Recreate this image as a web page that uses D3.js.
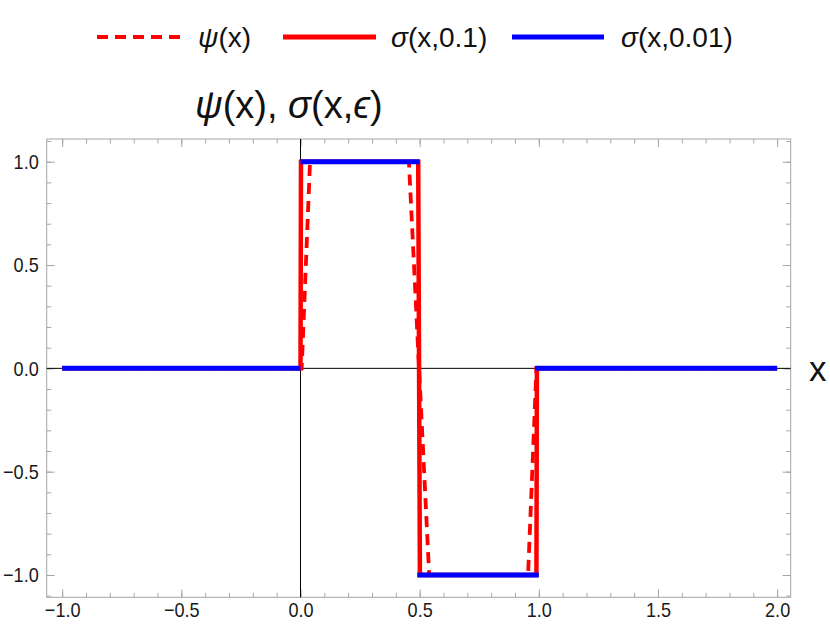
<!DOCTYPE html>
<html>
<head>
<meta charset="utf-8">
<script src="https://cdn.jsdelivr.net/npm/d3@7"></script>
<style>
	body { margin: 0; background: #fff; }
	svg { display: block; }
	text { font-family: "Liberation Sans", Arial, sans-serif; }
</style>
</head>
<body>
<svg width="830" height="632"></svg>
<script>
// psi(x)
const psiX = [-1, 0.005, 0.04, 0.455, 0.54, 0.955, 0.99, 2];
const psiY = [0, 0, 1, 1, -1, -1, 0, 0];
// sigma(x,0.1), red solid
const sig1X = [-1, 0, 0.002, 0.494, 0.501, 0.99, 0.992, 2];
const sig1Y = [0, 0, 1, 1, -1, -1, 0, 0];
// sigma(x,0.01), blue: only the flat pieces show, jumps are excluded
const sig2Start = [-1, 0, 0.49, 0.985];
const sig2End = [0, 0.5, 1, 2];
const sig2Level = [0, 1, -1, 0];

const xTicks = [-1, -0.5, 0, 0.5, 1, 1.5, 2];
const yTicks = [-1, -0.5, 0, 0.5, 1];
const xMinor = d3.range(-10, 21).map(function(d){ return d / 10; });
const yMinor = d3.range(-11, 12).map(function(d){ return d / 10; });

const frameCol = '#a6a6a6';
const textCol = '#1a1a1a';

let svg = d3.select("svg");

let x = d3.scaleLinear().domain([-1.065, 2.057]).range([46.7, 790.7]);
let y = d3.scaleLinear().domain([-1.108, 1.11]).range([597.3, 139]);

// frame ticks, pointing inward on all four sides
function tickAxis(axis, vals, size, fmt, pad){
	return axis.tickValues(vals).tickSize(-size).tickPadding(pad).tickFormat(fmt);
}
let noLabel = function(){ return ""; };
let fmt = d3.format(".1f");

let sides = [
	{ make: d3.axisBottom, sc: x, tr: [0, y.range()[0]], major: xTicks, minor: xMinor, label: true },
	{ make: d3.axisTop, sc: x, tr: [0, y.range()[1]], major: xTicks, minor: xMinor, label: false },
	{ make: d3.axisLeft, sc: y, tr: [x.range()[0], 0], major: yTicks, minor: yMinor, label: true },
	{ make: d3.axisRight, sc: y, tr: [x.range()[1], 0], major: yTicks, minor: yMinor, label: false },
];

sides.forEach(function(s){
	let gMin = svg.append("g").attr("transform", "translate(" + s.tr + ")")
		.call(tickAxis(s.make(s.sc), s.minor, 4.5, noLabel, 0));
	let gMaj = svg.append("g").attr("transform", "translate(" + s.tr + ")")
		.call(tickAxis(s.make(s.sc), s.major, 8, s.label ? fmt : noLabel, s.make === d3.axisLeft ? 8 : 5));
	[gMin, gMaj].forEach(function(g){
		g.select(".domain").remove();
		g.selectAll("line").attr("stroke", frameCol);
		g.selectAll("text").attr("fill", textCol).style("font-size", "21px")
			.each(function(){
				// the reference digits are a little narrower than Liberation Sans
				let w = this.getComputedTextLength();
				if (w > 0) d3.select(this).attr("textLength", w * 0.86).attr("lengthAdjust", "spacingAndGlyphs");
			});
	});
});

svg.append("rect")
	.attr("x", x.range()[0]).attr("y", y.range()[1])
	.attr("width", x.range()[1] - x.range()[0])
	.attr("height", y.range()[0] - y.range()[1])
	.attr("fill", "none").attr("stroke", frameCol);

// zero axes
svg.append("line")
	.attr("x1", x.range()[0]).attr("x2", x.range()[1])
	.attr("y1", y(0)).attr("y2", y(0))
	.attr("stroke", "black");
svg.append("line")
	.attr("x1", x(0)).attr("x2", x(0))
	.attr("y1", y.range()[0]).attr("y2", y.range()[1])
	.attr("stroke", "black");

let line = d3.line()
	.x(function(d){ return x(d[0]); })
	.y(function(d){ return y(d[1]); });

svg.append("path")
	.datum(d3.zip(psiX, psiY))
	.attr("d", line)
	.attr("fill", "none")
	.attr("stroke", "red")
	.attr("stroke-width", 3.8)
	.attr("stroke-dasharray", "11,7");

svg.append("path")
	.datum(d3.zip(sig1X, sig1Y))
	.attr("d", line)
	.attr("fill", "none")
	.attr("stroke", "red")
	.attr("stroke-width", 4.5);

svg.append("g").selectAll("line")
	.data(d3.zip(sig2Start, sig2End, sig2Level))
	.enter().append("line")
		.attr("x1", function(d){ return x(d[0]); })
		.attr("x2", function(d){ return x(d[1]); })
		.attr("y1", function(d){ return y(d[2]); })
		.attr("y2", function(d){ return y(d[2]); })
		.attr("stroke", "blue")
		.attr("stroke-width", 5);

// legend
let legend = [
	{ dash: "11,7", col: "red", w: 3.8, x0: 97, x1: 180, tx: 198, parts: [["ψ", true], ["(x)", false]] },
	{ dash: null, col: "red", w: 5, x0: 283, x1: 376, tx: 391, parts: [["σ", true], ["(x,0.1)", false]] },
	{ dash: null, col: "blue", w: 5, x0: 512, x1: 604, tx: 621, parts: [["σ", true], ["(x,0.01)", false]] },
];
let ly = 37;
let lg = svg.append("g").selectAll("g").data(legend).enter().append("g");
lg.append("line")
	.attr("x1", function(d){ return d.x0; })
	.attr("x2", function(d){ return d.x1; })
	.attr("y1", ly).attr("y2", ly)
	.attr("stroke", function(d){ return d.col; })
	.attr("stroke-width", function(d){ return d.w; })
	.attr("stroke-dasharray", function(d){ return d.dash; });
let lt = lg.append("text")
	.attr("x", function(d){ return d.tx; })
	.attr("y", ly + 10)
	.style("font-size", "28px")
	.attr("fill", "#111");
lt.selectAll("tspan").data(function(d){ return d.parts; }).enter().append("tspan")
	.style("font-style", function(d){ return d[1] ? "italic" : "normal"; })
	.text(function(d){ return d[0]; });

// title
let title = svg.append("text")
	.attr("x", 195).attr("y", 118)
	.style("font-size", "38px")
	.attr("fill", "#111");
[["ψ", true], ["(x), ", false], ["σ", true], ["(x,", false], ["ϵ", true], [")", false]].forEach(function(p){
	title.append("tspan").style("font-style", p[1] ? "italic" : "normal").text(p[0]);
});

// axis label
svg.append("text")
	.attr("x", 809).attr("y", 381)
	.style("font-size", "35px")
	.attr("fill", "#111")
	.text("x");
</script>
</body>
</html>
